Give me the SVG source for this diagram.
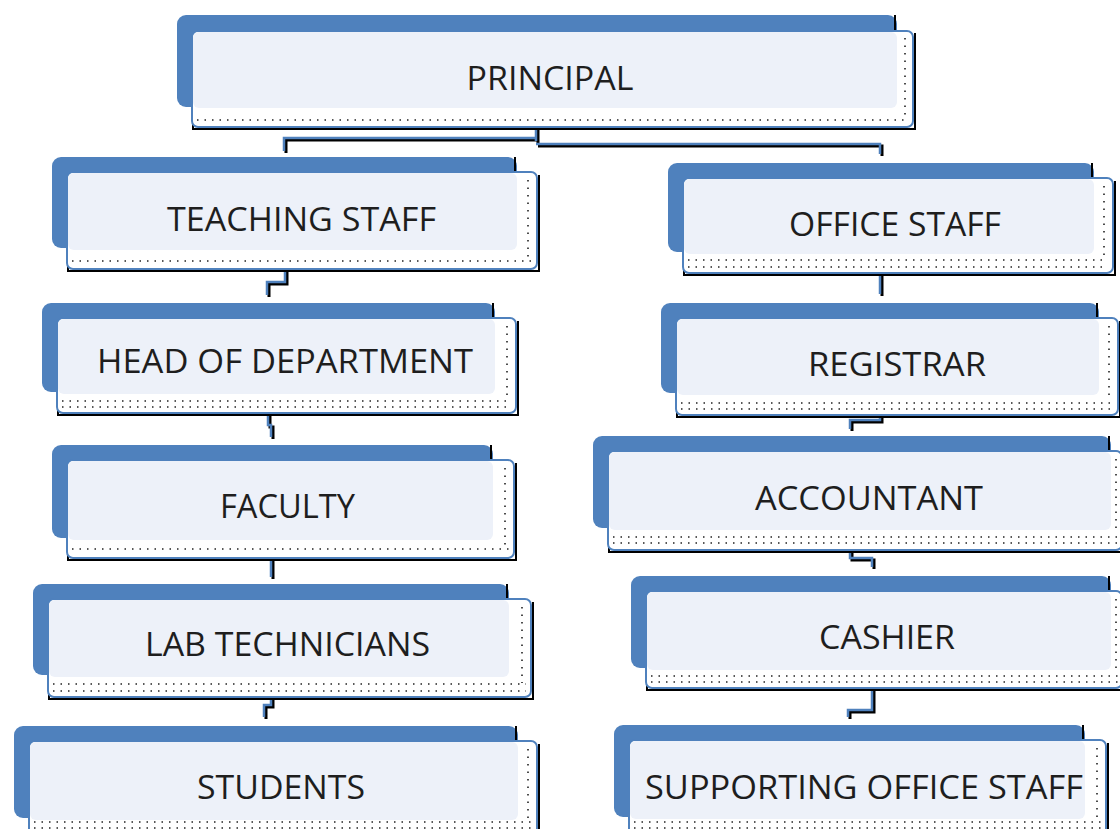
<svg xmlns="http://www.w3.org/2000/svg" width="1120" height="829" viewBox="0 0 1120 829">
<style>
.back{fill:#4F81BD}
.frame{fill:#ffffff;stroke:#4F81BD;stroke-width:2}
.shadow{fill:none;stroke:#000;stroke-width:2}
.inner{fill:#EDF1F9}
.dots{fill:none;stroke:#222;stroke-width:1.6;stroke-dasharray:1.5 6}
.lbl{font-family:"Open Sans","Noto Sans",sans-serif;font-size:33px;fill:#1e1e1e;text-anchor:middle}
.cb{fill:none;stroke:#000;stroke-width:3}
.cl{fill:none;stroke:#4F81BD;stroke-width:2.5}
</style>
<rect width="1120" height="829" fill="#ffffff"/>
<g id="connectors">
<path class="cb" d="M538,128 V143 M538,140 H286 V153 M538,146 H882 V156"/>
<path class="cl" d="M536,127 V141 M536,138 H284 V151 M536,144 H880 V154"/>
<path class="cb" d="M287,270 V284 H269 V297"/>
<path class="cl" d="M285,269 V282 H267 V295"/>
<path class="cb" d="M270,414 V427 H273 V439"/>
<path class="cl" d="M268,413 V425 H271 V437"/>
<path class="cb" d="M273,559 V579"/>
<path class="cl" d="M271,558 V577"/>
<path class="cb" d="M273,698 V707 H266 V719"/>
<path class="cl" d="M271,697 V705 H264 V717"/>
<path class="cb" d="M882,274 V296"/>
<path class="cl" d="M880,273 V294"/>
<path class="cb" d="M882,416 V422 H852 V431"/>
<path class="cl" d="M880,415 V420 H850 V429"/>
<path class="cb" d="M852,551 V560 H874 V569"/>
<path class="cl" d="M850,550 V558 H872 V567"/>
<path class="cb" d="M874,689 V712 H850 V719"/>
<path class="cl" d="M872,688 V710 H848 V717"/>
</g>
<g id="principal">
<rect class="back" x="177" y="15" width="720" height="92" rx="9"/>
<path class="shadow" d="M895,15 V32 M915,33 V129 H193 V120"/>
<rect class="frame" x="192" y="31" width="721" height="96" rx="6"/>
<rect class="inner" x="193" y="32" width="704" height="76" rx="6"/>
<path class="dots" d="M197,120 H908 M905,38 V116"/>
<text class="lbl" x="550" y="90" textLength="167" lengthAdjust="spacingAndGlyphs">PRINCIPAL</text>
</g>
<g id="teaching-staff">
<rect class="back" x="52" y="157" width="465" height="91" rx="9"/>
<path class="shadow" d="M515,157 V173 M539,175 V271 H68 V262"/>
<rect class="frame" x="67" y="172" width="470" height="97" rx="6"/>
<rect class="inner" x="68" y="173" width="449" height="77" rx="6"/>
<path class="dots" d="M72,261 H532 M528,180 V257"/>
<text class="lbl" x="301.5" y="231" textLength="269" lengthAdjust="spacingAndGlyphs">TEACHING STAFF</text>
</g>
<g id="office-staff">
<rect class="back" x="668" y="163" width="426" height="89" rx="9"/>
<path class="shadow" d="M1092,163 V179 M1115,181 V275 H684 V266"/>
<rect class="frame" x="683" y="178" width="430" height="95" rx="6"/>
<rect class="inner" x="684" y="179" width="410" height="75" rx="6"/>
<path class="dots" d="M688,260 H1108 M688,267 H1108 M1104,186 V256"/>
<text class="lbl" x="895" y="236" textLength="212" lengthAdjust="spacingAndGlyphs">OFFICE STAFF</text>
</g>
<g id="head-of-department">
<rect class="back" x="42" y="303" width="453" height="89" rx="9"/>
<path class="shadow" d="M493,303 V319 M518,321 V415 H58 V406"/>
<rect class="frame" x="57" y="318" width="459" height="95" rx="6"/>
<rect class="inner" x="58" y="319" width="437" height="75" rx="6"/>
<path class="dots" d="M62,401 H511 M62,407 H511 M507,326 V400"/>
<text class="lbl" x="285" y="373" textLength="376" lengthAdjust="spacingAndGlyphs">HEAD OF DEPARTMENT</text>
</g>
<g id="registrar">
<rect class="back" x="661" y="303" width="438" height="90" rx="9"/>
<path class="shadow" d="M1097,303 V319 M1120,321 V417 H677 V408"/>
<rect class="frame" x="676" y="318" width="442" height="97" rx="6"/>
<rect class="inner" x="677" y="319" width="422" height="76" rx="6"/>
<path class="dots" d="M681,403 H1113 M681,409 H1113 M1109,326 V400"/>
<text class="lbl" x="897" y="376" textLength="178" lengthAdjust="spacingAndGlyphs">REGISTRAR</text>
</g>
<g id="faculty">
<rect class="back" x="52" y="445" width="441" height="93" rx="9"/>
<path class="shadow" d="M491,445 V461 M516,463 V560 H68 V551"/>
<rect class="frame" x="67" y="460" width="447" height="98" rx="6"/>
<rect class="inner" x="68" y="461" width="425" height="79" rx="6"/>
<path class="dots" d="M72,549 H509 M505,468 V545"/>
<text class="lbl" x="287.5" y="518" textLength="135" lengthAdjust="spacingAndGlyphs">FACULTY</text>
</g>
<g id="accountant">
<rect class="back" x="593" y="436" width="518" height="92" rx="9"/>
<path class="shadow" d="M1109,436 V452 M1124,454 V552 H609 V543"/>
<rect class="frame" x="608" y="451" width="514" height="99" rx="6"/>
<rect class="inner" x="609" y="452" width="502" height="78" rx="6"/>
<path class="dots" d="M613,537 H1120 M613,543 H1120 M1116,459 V532"/>
<text class="lbl" x="869" y="510" textLength="228" lengthAdjust="spacingAndGlyphs">ACCOUNTANT</text>
</g>
<g id="lab-technicians">
<rect class="back" x="33" y="584" width="476" height="91" rx="9"/>
<path class="shadow" d="M507,584 V600 M533,602 V699 H49 V690"/>
<rect class="frame" x="48" y="599" width="483" height="98" rx="6"/>
<rect class="inner" x="49" y="600" width="460" height="77" rx="6"/>
<path class="dots" d="M53,684 H526 M53,691 H526 M522,607 V683"/>
<text class="lbl" x="287.5" y="656" textLength="285" lengthAdjust="spacingAndGlyphs">LAB TECHNICIANS</text>
</g>
<g id="cashier">
<rect class="back" x="631" y="576" width="480" height="92" rx="9"/>
<path class="shadow" d="M1109,576 V592 M1124,594 V690 H647 V681"/>
<rect class="frame" x="646" y="591" width="476" height="97" rx="6"/>
<rect class="inner" x="647" y="592" width="464" height="78" rx="6"/>
<path class="dots" d="M651,676 H1120 M651,682 H1120 M1116,599 V672"/>
<text class="lbl" x="887" y="649" textLength="136" lengthAdjust="spacingAndGlyphs">CASHIER</text>
</g>
<g id="students">
<rect class="back" x="14" y="726" width="504" height="92" rx="9"/>
<path class="shadow" d="M516,726 V742 M539,744 V840 H30 V831"/>
<rect class="frame" x="29" y="741" width="508" height="98" rx="6"/>
<rect class="inner" x="30" y="742" width="488" height="78" rx="6"/>
<path class="dots" d="M34,822 H532 M34,828 H532 M528,749 V818"/>
<text class="lbl" x="281" y="799" textLength="168" lengthAdjust="spacingAndGlyphs">STUDENTS</text>
</g>
<g id="supporting-office-staff">
<rect class="back" x="614" y="725" width="471" height="92" rx="9"/>
<path class="shadow" d="M1083,725 V741 M1108,743 V840 H630 V831"/>
<rect class="frame" x="629" y="740" width="477" height="98" rx="6"/>
<rect class="inner" x="630" y="741" width="455" height="78" rx="6"/>
<path class="dots" d="M634,822 H1101 M634,828 H1101 M1097,748 V818"/>
<text class="lbl" x="864" y="799" textLength="438" lengthAdjust="spacingAndGlyphs">SUPPORTING OFFICE STAFF</text>
</g>
</svg>
